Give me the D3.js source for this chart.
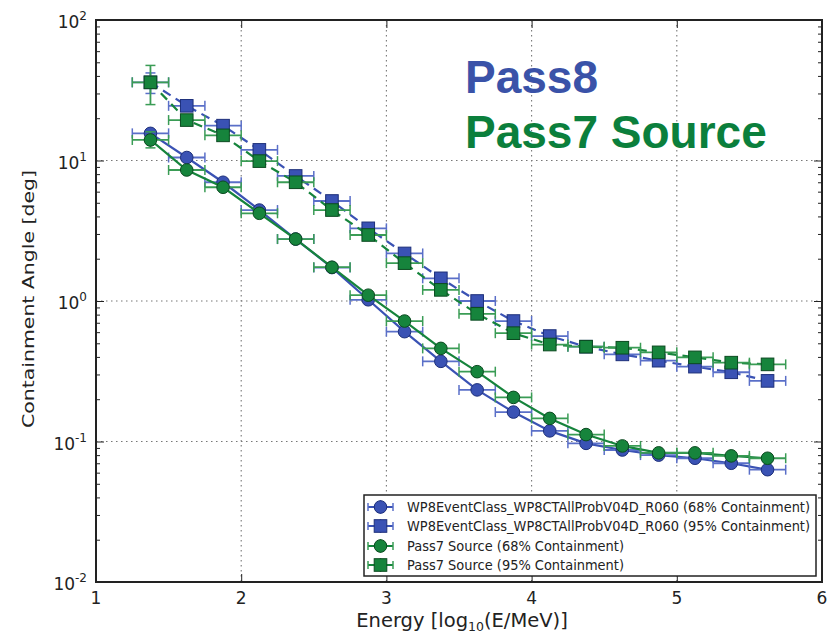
<!DOCTYPE html>
<html>
<head>
<meta charset="utf-8">
<script src="https://cdn.jsdelivr.net/npm/d3@7/dist/d3.min.js"></script>
<style>
  html, body { margin: 0; padding: 0; background: #fff; }
  svg { display: block; }
  text { font-family: "DejaVu Sans", sans-serif; fill: #222; }
  text.banner { font-family: "Liberation Sans", Arial, sans-serif; font-weight: bold; }
</style>
</head>
<body>
<svg id="chart" width="834" height="634"></svg>
<script>
// Energy bin centres, log10(E/MeV), each bin 0.25 wide
const energyBins = [1.375, 1.625, 1.875, 2.125, 2.375, 2.625, 2.875, 3.125, 3.375,
                    3.625, 3.875, 4.125, 4.375, 4.625, 4.875, 5.125, 5.375, 5.625];
const binHalfWidth = 0.125;

// Containment angles [deg]
const pass8_68 = [15.6, 10.5, 7.0, 4.44, 2.76, 1.73, 1.02, 0.605, 0.372,
                  0.233, 0.162, 0.119, 0.097, 0.087, 0.080, 0.076, 0.070, 0.063];
const pass8_95 = [36.0, 24.5, 17.7, 11.9, 7.76, 5.15, 3.29, 2.18, 1.45,
                  1.00, 0.72, 0.563, 0.473, 0.417, 0.376, 0.341, 0.311, 0.270];
const pass7_68 = [14.0, 8.56, 6.45, 4.21, 2.76, 1.74, 1.10, 0.72, 0.46,
                  0.314, 0.206, 0.146, 0.112, 0.093, 0.083, 0.083, 0.079, 0.076];
const pass7_95 = [36.0, 19.4, 15.1, 9.9, 7.0, 4.44, 2.95, 1.86, 1.20,
                  0.81, 0.59, 0.49, 0.473, 0.465, 0.431, 0.397, 0.364, 0.354];

// Statistical uncertainty (lower / upper) on each angle
const pass8_68_errLo = [0.8, 0.3, 0.15, 0.08, 0.04, 0.02, 0.01, 0.006, 0.003, 0.002, 0.001, 0.001, 0.001, 0.001, 0.001, 0.001, 0.001, 0.001];
const pass8_68_errHi = pass8_68_errLo;
const pass8_95_errLo = [6.0, 1.0, 0.5, 0.3, 0.15, 0.08, 0.04, 0.02, 0.015, 0.01, 0.008, 0.006, 0.005, 0.005, 0.005, 0.005, 0.005, 0.005];
const pass8_95_errHi = pass8_95_errLo;
const pass7_68_errLo = [1.7, 0.4, 0.2, 0.1, 0.05, 0.03, 0.02, 0.01, 0.006, 0.004, 0.003, 0.002, 0.002, 0.001, 0.001, 0.001, 0.001, 0.001];
const pass7_68_errHi = [2.0, 0.4, 0.2, 0.1, 0.05, 0.03, 0.02, 0.01, 0.006, 0.004, 0.003, 0.002, 0.002, 0.001, 0.001, 0.001, 0.001, 0.001];
const pass7_95_errLo = [11.0, 1.2, 0.6, 0.3, 0.15, 0.08, 0.04, 0.03, 0.02, 0.012, 0.01, 0.008, 0.006, 0.006, 0.006, 0.006, 0.006, 0.006];
const pass7_95_errHi = [11.5, 1.2, 0.6, 0.3, 0.15, 0.08, 0.04, 0.03, 0.02, 0.012, 0.01, 0.008, 0.006, 0.006, 0.006, 0.006, 0.006, 0.006];

const seriesNames = [
  "WP8EventClass_WP8CTAllProbV04D_R060 (68% Containment)",
  "WP8EventClass_WP8CTAllProbV04D_R060 (95% Containment)",
  "Pass7 Source (68% Containment)",
  "Pass7 Source (95% Containment)"
];

const xTicks = [1, 2, 3, 4, 5, 6];
const yTickExponents = [-2, -1, 0, 1, 2];
const xDomain = [1, 6];
const yDomain = [0.01, 100];

const BLUE = "#3a52b4", BLUE_EDGE = "#1d2f7a", BLUE_ERR = "#5a6fc8";
const GREEN = "#16843c", GREEN_EDGE = "#0b4a20", GREEN_ERR = "#3a9c55";

const series = [
  { name: seriesNames[0], values: pass8_68, lo: pass8_68_errLo, hi: pass8_68_errHi, color: BLUE, edge: BLUE_EDGE, err: BLUE_ERR, marker: "circle", dash: null },
  { name: seriesNames[1], values: pass8_95, lo: pass8_95_errLo, hi: pass8_95_errHi, color: BLUE, edge: BLUE_EDGE, err: BLUE_ERR, marker: "square", dash: "9,6" },
  { name: seriesNames[2], values: pass7_68, lo: pass7_68_errLo, hi: pass7_68_errHi, color: GREEN, edge: GREEN_EDGE, err: GREEN_ERR, marker: "circle", dash: null },
  { name: seriesNames[3], values: pass7_95, lo: pass7_95_errLo, hi: pass7_95_errHi, color: GREEN, edge: GREEN_EDGE, err: GREEN_ERR, marker: "square", dash: "9,6" }
];

const svg = d3.select("#chart");
const plot = { left: 96, right: 822, top: 20, bottom: 582 };

const x = d3.scaleLinear().domain(xDomain).range([plot.left, plot.right]);
const y = d3.scaleLog().domain(yDomain).range([plot.bottom, plot.top]);

// dotted grid
const grid = svg.append("g");
xTicks.slice(1, -1).forEach(t => {
  grid.append("line").attr("x1", x(t)).attr("x2", x(t))
    .attr("y1", plot.top).attr("y2", plot.bottom)
    .attr("stroke", "#777").attr("stroke-width", 1.1).attr("stroke-dasharray", "1.5,3.5");
});
yTickExponents.slice(1, -1).forEach(e => {
  const v = Math.pow(10, e);
  grid.append("line").attr("x1", plot.left).attr("x2", plot.right)
    .attr("y1", y(v)).attr("y2", y(v))
    .attr("stroke", "#777").attr("stroke-width", 1.1).attr("stroke-dasharray", "1.5,3.5");
});

// Axes with inward ticks, mirrored on top/right
const minorVals = [];
yTickExponents.slice(0, -1).forEach(e => {
  for (let m = 2; m <= 9; m++) minorVals.push(m * Math.pow(10, e));
});

const axisG = svg.append("g");
function yTicksAt(xPos, dir) {
  const g = axisG.append("g");
  g.call(d3.axisLeft(y).tickValues(minorVals).tickSize(-4 * dir).tickFormat(""))
    .attr("transform", `translate(${xPos},0)`);
  g.select(".domain").remove();
  const g2 = axisG.append("g");
  g2.call(d3.axisLeft(y).tickValues(yTickExponents.map(e => Math.pow(10, e))).tickSize(-8 * dir).tickFormat(""))
    .attr("transform", `translate(${xPos},0)`);
  g2.select(".domain").remove();
  [g, g2].forEach(gg => gg.selectAll("line").attr("stroke", "#222").attr("stroke-width", 1));
}
yTicksAt(plot.left, 1);
yTicksAt(plot.right, -1);

function xTicksAt(yPos, dir) {
  const g = axisG.append("g");
  g.call(d3.axisBottom(x).tickValues(xTicks).tickSize(-8 * dir).tickFormat(""))
    .attr("transform", `translate(0,${yPos})`);
  g.select(".domain").remove();
  g.selectAll("line").attr("stroke", "#222").attr("stroke-width", 1);
}
xTicksAt(plot.bottom, 1);
xTicksAt(plot.top, -1);

// Tick labels
const labelG = svg.append("g").attr("font-size", 17);
xTicks.forEach(t => {
  labelG.append("text").attr("x", x(t)).attr("y", plot.bottom + 22)
    .attr("text-anchor", "middle").text(t);
});
yTickExponents.forEach(e => {
  const t = labelG.append("text").attr("x", 87).attr("y", y(Math.pow(10, e)) + 8)
    .attr("text-anchor", "end");
  t.append("tspan").text("10");
  t.append("tspan").attr("dy", -8).attr("font-size", 12).text(e);
});

// Axis titles
const xl = svg.append("text").attr("x", 462).attr("y", 627).attr("text-anchor", "middle").attr("font-size", 19.5);
xl.append("tspan").text("Energy [log");
xl.append("tspan").attr("dy", 4).attr("font-size", 12.5).text("10");
xl.append("tspan").attr("dy", -4).text("(E/MeV)]");

svg.append("text").attr("transform", "translate(34,299) rotate(-90)")
  .attr("text-anchor", "middle").attr("font-size", 16.5)
  .attr("textLength", 258).attr("lengthAdjust", "spacingAndGlyphs")
  .text("Containment Angle [deg]");

// Data
const dataG = svg.append("g");
const line = d3.line().x(d => x(d.e)).y(d => y(d.v));
const capH = 5;

function drawMarker(g, type, cx, cy, s) {
  if (type === "circle") {
    g.append("circle").attr("cx", cx).attr("cy", cy).attr("r", 6.3)
      .attr("fill", s.color).attr("stroke", s.edge).attr("stroke-width", 1);
  } else {
    g.append("rect").attr("x", cx - 6.3).attr("y", cy - 6.3).attr("width", 12.6).attr("height", 12.6)
      .attr("fill", s.color).attr("stroke", s.edge).attr("stroke-width", 1);
  }
}

series.forEach(s => {
  const pts = energyBins.map((e, i) => ({ e, v: s.values[i], lo: s.lo[i], hi: s.hi[i] }));
  const g = dataG.append("g");
  g.append("path").datum(pts).attr("d", line).attr("fill", "none")
    .attr("stroke", s.color).attr("stroke-width", 2.2)
    .attr("stroke-dasharray", s.dash);
  pts.forEach(p => {
    const cy = y(p.v);
    const x0 = x(p.e - binHalfWidth), x1 = x(p.e + binHalfWidth);
    g.append("line").attr("x1", x0).attr("x2", x1).attr("y1", cy).attr("y2", cy)
      .attr("stroke", s.err).attr("stroke-width", 1.8);
    [x0, x1].forEach(xx => g.append("line").attr("x1", xx).attr("x2", xx)
      .attr("y1", cy - capH).attr("y2", cy + capH).attr("stroke", s.err).attr("stroke-width", 1.5));
    const ylo = y(p.v - p.lo), yhi = y(p.v + p.hi);
    g.append("line").attr("x1", x(p.e)).attr("x2", x(p.e)).attr("y1", ylo).attr("y2", yhi)
      .attr("stroke", s.err).attr("stroke-width", 1.8);
    [ylo, yhi].forEach(yy => g.append("line").attr("x1", x(p.e) - capH).attr("x2", x(p.e) + capH)
      .attr("y1", yy).attr("y2", yy).attr("stroke", s.err).attr("stroke-width", 1.5));
    drawMarker(g, s.marker, x(p.e), cy, s);
  });
});

// Frame
svg.append("rect").attr("x", plot.left).attr("y", plot.top)
  .attr("width", plot.right - plot.left).attr("height", plot.bottom - plot.top)
  .attr("fill", "none").attr("stroke", "#222").attr("stroke-width", 2);

// Big annotation
svg.append("text").attr("class", "banner").attr("x", 465).attr("y", 93)
  .attr("font-size", 46).style("fill", "#3a52a8").text("Pass8");
svg.append("text").attr("class", "banner").attr("x", 465).attr("y", 148)
  .attr("font-size", 46).style("fill", "#0b7f3c").text("Pass7 Source");

// Legend
const legend = svg.append("g");
legend.append("rect").attr("x", 364).attr("y", 495).attr("width", 452).attr("height", 81)
  .attr("fill", "#fff").attr("stroke", "#222").attr("stroke-width", 1.5);
const rowY = [507, 526, 546, 565];
const rowTextLength = [403, 403, 217, 217];
series.forEach((s, i) => {
  const ry = rowY[i];
  const g = legend.append("g");
  g.append("line").attr("x1", 368).attr("x2", 393).attr("y1", ry).attr("y2", ry)
    .attr("stroke", s.color).attr("stroke-width", 2);
  [368, 393].forEach(xx => g.append("line").attr("x1", xx).attr("x2", xx)
    .attr("y1", ry - 4).attr("y2", ry + 4).attr("stroke", s.err).attr("stroke-width", 1.5));
  g.append("line").attr("x1", 380.5).attr("x2", 380.5).attr("y1", ry - 7).attr("y2", ry + 7)
    .attr("stroke", s.err).attr("stroke-width", 1.5);
  drawMarker(g, s.marker, 380.5, ry, s);
  legend.append("text").attr("x", 407).attr("y", ry + 5).attr("font-size", 13.3)
    .attr("textLength", rowTextLength[i]).attr("lengthAdjust", "spacingAndGlyphs")
    .text(s.name);
});
</script>
</body>
</html>
